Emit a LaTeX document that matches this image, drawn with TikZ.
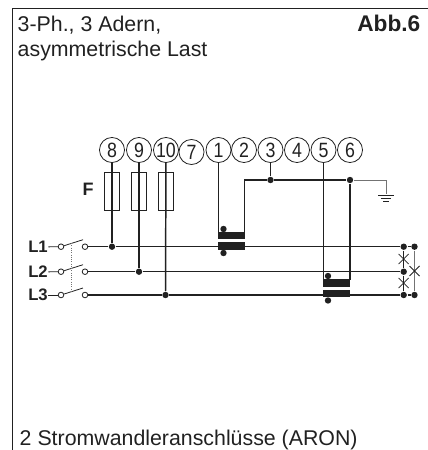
\documentclass[tikz,border=0pt]{standalone}
\usepackage{fontspec}
\setmainfont{Liberation Sans}
\newfontfamily\klemmenfont[FakeStretch=0.86]{Liberation Sans}
\definecolor{tinte}{gray}{0.13}
\begin{document}
\begin{tikzpicture}[x=0.75pt, y=-0.75pt, color=tinte, line width=1.1pt]

% Styles for terminals, fuses and junctions
\tikzstyle{klemme} = [circle, draw, line width=0.6pt, minimum size=18.8pt, inner sep=0pt, font=\klemmenfont\fontsize{15.5}{15.5}\selectfont]
\tikzstyle{sicherung} = [rectangle, draw, line width=0.95pt, minimum width=11pt, minimum height=28pt, inner sep=0pt]
\tikzstyle{punkt} = [circle, fill, minimum size=4.8pt, inner sep=0pt]
\tikzstyle{offen} = [circle, draw, fill=white, line width=0.6pt, minimum size=4.2pt, inner sep=0pt]
\tikzstyle{wandler} = [rectangle, fill, minimum width=20.5pt, minimum height=5.6pt, inner sep=0pt]
\tikzstyle{phase} = [font=\bfseries\fontsize{12.5}{13}\selectfont, inner sep=0pt]
\tikzstyle{duenn} = [line width=0.7pt, draw=black!55]
\tikzstyle{kreuz} = [line width=0.55pt]

\useasboundingbox (0,0) rectangle (428,450);

% Frame
\coordinate (obenrechts) at (428,8.5);
\coordinate (ecke) at (12.5,8.5);
\coordinate (untenlinks) at (12.5,450);
\draw[line width=0.9pt] (obenrechts) -- (ecke) -- (untenlinks);

% Texts
\node[anchor=north west, align=left, inner sep=0pt, font=\fontsize{16}{18.75}\selectfont] (titel) at (17,15.5) {3-Ph., 3 Adern,\\asymmetrische Last};
\node[anchor=base east, inner sep=0pt, font=\bfseries\fontsize{17}{18}\selectfont] (abb) at (421,31.7) {Abb.6};
\node[anchor=base west, inner sep=0pt, font=\fontsize{16}{18}\selectfont] (fuss) at (19,445.5) {2 Stromwandleranschlüsse (ARON)};

% Terminals
\node[klemme] (k8) at (112,150) {8};
\node[klemme] (k9) at (139,150) {9};
\node[klemme] (k10) at (166,150) {10};
\node[klemme] (k7) at (191.5,152) {7};
\node[klemme] (k1) at (218.5,150) {1};
\node[klemme] (k2) at (244,150) {2};
\node[klemme] (k3) at (270.5,150) {3};
\node[klemme] (k4) at (297,150) {4};
\node[klemme] (k5) at (323.5,150) {5};
\node[klemme] (k6) at (350,150) {6};

% Mains side
\node[phase] (L1) at (38,247) {L1};
\node[phase] (L2) at (38,272) {L2};
\node[phase] (L3) at (38,295) {L3};
\node[phase, font=\bfseries\fontsize{13.5}{14}\selectfont] (F) at (88,189.5) {F};
\foreach \y/\n in {246.7/1, 271.7/2, 295/3}{
	\node[offen] (a\n) at (61,\y) {};
	\node[offen] (b\n) at (85,\y) {};
	\coordinate (m\n) at (71,\y-3.5);
	\coordinate (c\n) at (83,\y-7);
	\draw[line width=0.6pt] (L\n) -- (a\n);
	\draw[line width=0.6pt] (a\n) -- (c\n);
}
\draw[duenn, densely dotted] (m1) -- (m3);

% Junctions on the phases
\node[punkt] (p8) at (112,246.7) {};
\node[punkt] (p9) at (139,271.7) {};
\node[punkt] (p10) at (165.5,295) {};
\node[punkt] (r1) at (403.7,246.7) {};
\node[punkt] (r2) at (403.7,271.7) {};
\node[punkt] (r3) at (403.7,295) {};
\node[punkt] (s1) at (414.5,246.7) {};
\node[punkt] (s3) at (414.5,295) {};
\draw (b1) -- (p8) -- (r1) -- (s1);
\draw (b2) -- (p9) -- (r2);
\draw (b3) -- (p10) -- (r3) -- (s3);
\draw (k8) -- (p8);
\draw (k9) -- (p9);
\draw (k10) -- (p10);
\draw[line width=0.8pt] (r1) -- (r2) -- (r3);
\draw[duenn] (s1) -- (s3);

% Fuses
\node[sicherung] (f8) at (112,191.5) {};
\node[sicherung] (f9) at (139,191.5) {};
\node[sicherung] (f10) at (166,191.5) {};

% Current transformers
\node[wandler] (w1o) at (231.5,235.5) {};
\node[wandler] (w1u) at (231.5,246) {};
\node[punkt] (d1o) at (223.5,229) {};
\node[punkt] (d1u) at (223.5,253) {};
\node[wandler] (w2o) at (336.5,283) {};
\node[wandler] (w2u) at (336.5,293.5) {};
\node[punkt] (d2o) at (328,276) {};
\node[punkt] (d2u) at (328,300.5) {};

% Secondary wiring
\coordinate (e1) at (218.5,232.5);
\coordinate (e2) at (244.7,232.5);
\coordinate (k2k) at (244.7,180);
\node[punkt] (p3) at (270.5,180) {};
\node[punkt] (p6) at (350,180) {};
\coordinate (e5) at (323.5,280);
\coordinate (e6) at (350,280);
\coordinate (knick) at (386,180);
\node[inner sep=0pt, minimum width=12pt, minimum height=0.65pt, fill] (erde) at (386,195) {};
\node[inner sep=0pt, minimum width=8.2pt, minimum height=0.65pt, fill] (erde2) at (386,198) {};
\node[inner sep=0pt, minimum width=4.2pt, minimum height=0.65pt, fill] (erde3) at (386,201) {};
\draw[line width=0.8pt] (k1) -- (e1);
\draw (e2) -- (k2k) -- (p3) -- (p6) -- (e6);
\draw (k3) -- (p3);
\draw[line width=0.8pt] (k5) -- (e5);
\draw[duenn] (p6) -- (knick) -- (erde);

% Crossings on the load side
\foreach \x/\y/\n in {403.7/259/1, 403.7/283/2, 414.5/271/3}{
	\coordinate (x\n a) at (\x-5,\y-5);
	\coordinate (x\n b) at (\x+5,\y+5);
	\coordinate (x\n c) at (\x-5,\y+5);
	\coordinate (x\n d) at (\x+5,\y-5);
	\draw[kreuz] (x\n a) -- (x\n b);
	\draw[kreuz] (x\n c) -- (x\n d);
}
\end{tikzpicture}
\end{document}
